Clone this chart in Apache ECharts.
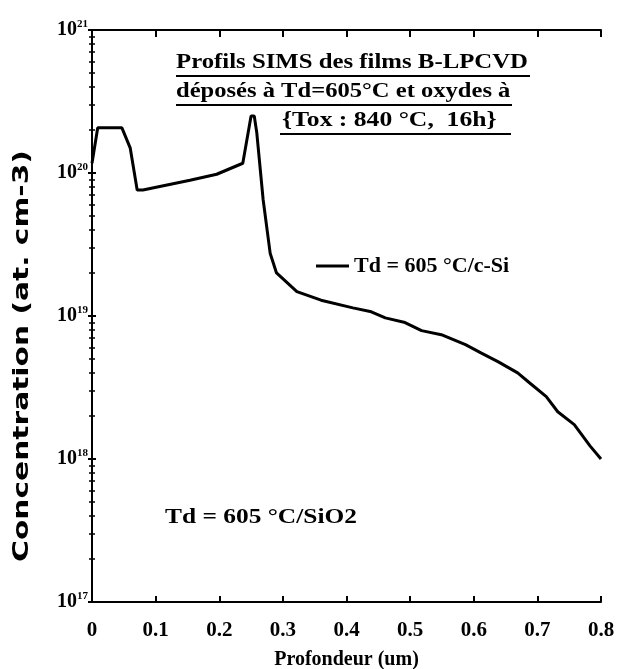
<!DOCTYPE html>
<html>
<head>
    <meta charset="utf-8" />
    <title>Profils SIMS</title>
    <script type="text/javascript" src="https://cdn.jsdelivr.net/npm/echarts@6/dist/echarts.min.js"></script>
    <style>
        html, body { margin: 0; padding: 0; background: #fff; }
        #con1 { width: 630px; height: 669px; }
    </style>
</head>
<body>
    <div id="con1"></div>
    <script type="text/javascript">
        // profondeur (um) et concentration (at. cm-3)
        var depth = [0, 0.009, 0.047, 0.06, 0.071, 0.08, 0.154, 0.196, 0.237, 0.250, 0.255, 0.259, 0.269, 0.28, 0.29,
            0.322, 0.36, 0.41, 0.439, 0.461, 0.492, 0.518, 0.549, 0.587, 0.612, 0.638, 0.669, 0.688, 0.714, 0.732,
            0.758, 0.783, 0.8];
        var conc = [1.17e20, 2.07e20, 2.07e20, 1.50e20, 7.6e19, 7.6e19, 8.9e19, 9.8e19, 1.17e20, 2.5e20, 2.5e20, 1.91e20, 6.5e19, 2.75e19, 2.0e19,
            1.48e19, 1.29e19, 1.14e19, 1.07e19, 9.7e18, 9.0e18, 7.9e18, 7.4e18, 6.3e18, 5.5e18, 4.8e18, 4.0e18, 3.4e18, 2.73e18, 2.14e18,
            1.74e18, 1.23e18, 1.0e18];
        var titleLines = ['Profils SIMS des films B-LPCVD', 'déposés à Td=605°C et oxydes à', '{Tox : 840 °C,  16h}'];
        var seriesName = 'Td = 605 °C/c-Si';
        var noteText = 'Td = 605 °C/SiO2';
        var yName = 'Concentration (at. cm-3)';

        var serif = '"Liberation Serif", "DejaVu Serif", serif';
        var points = depth.map(function (d, i) { return [d, conc[i]]; });

        var myChart1 = echarts.init(document.getElementById('con1'));

        var yLabel = {
            fontFamily: serif,
            fontWeight: 'bold',
            fontSize: 20,
            color: '#000',
            margin: 4,
            formatter: function (v) {
                return '10{s|' + Math.round(Math.log10(v)) + '}';
            },
            rich: {
                s: { fontSize: 11, fontWeight: 'bold', fontFamily: serif, verticalAlign: 'top', padding: [0, 0, 12, 0] }
            }
        };

        // texte gras, élargi horizontalement comme sur la figure
        function wideText(txt, x, y, size, sx) {
            return { type: 'text', x: x, y: y, scaleX: sx, style: { text: txt, font: 'bold ' + size + 'px ' + serif, fill: '#000' } };
        }

        var option1 = {
            backgroundColor: '#fff',
            animation: false,
            grid: { left: 92, right: 29, top: 30, bottom: 67, outerBoundsMode: 'none' },
            legend: {
                data: [seriesName],
                left: 311,
                top: 250,
                icon: 'rect',
                itemWidth: 33,
                itemHeight: 3,
                itemGap: 10,
                textStyle: { fontFamily: serif, fontWeight: 'bold', fontSize: 22, color: '#000' }
            },
            xAxis: [{
                type: 'value',
                min: 0,
                max: 0.8,
                interval: 0.1,
                name: 'Profondeur (um)',
                nameLocation: 'middle',
                nameGap: 48,
                nameTextStyle: { fontFamily: serif, fontWeight: 'bold', fontSize: 20, color: '#000' },
                axisLine: { lineStyle: { color: '#000', width: 2 } },
                axisTick: { inside: true, length: 6, lineStyle: { color: '#000', width: 2 } },
                axisLabel: {
                    fontFamily: serif, fontWeight: 'bold', fontSize: 21, color: '#000', margin: 18,
                    formatter: function (v) { return v === 0 ? '0' : v.toFixed(1); }
                },
                splitLine: { show: false }
            }, {
                type: 'value',
                position: 'top',
                min: 0,
                max: 0.8,
                interval: 0.1,
                axisLine: { lineStyle: { color: '#000', width: 2 } },
                axisTick: { inside: true, length: 7, lineStyle: { color: '#000', width: 2 } },
                axisLabel: { show: false },
                splitLine: { show: false }
            }],
            yAxis: [{
                type: 'log',
                logBase: 10,
                min: 1e17,
                max: 1e21,
                axisLine: { lineStyle: { color: '#000', width: 2 } },
                axisTick: { inside: true, length: 4, lineStyle: { color: '#000', width: 2 } },
                minorTick: { show: true, splitNumber: 9, length: 3, lineStyle: { color: '#000', width: 1.5 } },
                axisLabel: yLabel,
                splitLine: { show: false }
            }, {
                type: 'log',
                logBase: 10,
                min: 1e17,
                max: 1e21,
                position: 'right',
                axisLine: { lineStyle: { color: '#000', width: 2 } },
                axisTick: { inside: true, length: 4, lineStyle: { color: '#000', width: 2 } },
                minorTick: { show: true, splitNumber: 9, length: 3, lineStyle: { color: '#000', width: 1.5 } },
                axisLabel: { show: false },
                splitLine: { show: false }
            }],
            series: [{
                name: seriesName,
                type: 'line',
                data: points,
                showSymbol: false,
                smooth: false,
                color: '#000',
                lineStyle: { color: '#000', width: 3 }
            }],
            graphic: [
                wideText(titleLines[0], 176, 52, 21, 1.18),
                { type: 'line', shape: { x1: 176, y1: 76, x2: 530, y2: 76 }, style: { stroke: '#000', lineWidth: 2 } },
                wideText(titleLines[1], 176, 81, 21, 1.17),
                { type: 'line', shape: { x1: 176, y1: 105, x2: 512, y2: 105 }, style: { stroke: '#000', lineWidth: 2 } },
                wideText(titleLines[2], 282, 110, 21, 1.22),
                { type: 'line', shape: { x1: 280, y1: 134, x2: 511, y2: 134 }, style: { stroke: '#000', lineWidth: 2 } },
                wideText(noteText, 165, 508, 20, 1.27),
                {
                    type: 'text', x: 22, y: 356, rotation: Math.PI / 2, scaleX: 1.5,
                    style: {
                        text: yName, font: 'bold 22px "DejaVu Sans Condensed", "DejaVu Sans", sans-serif',
                        fill: '#000', align: 'center', verticalAlign: 'middle'
                    }
                }
            ]
        };
        option1 && myChart1.setOption(option1);
    </script>
</body>
</html>
